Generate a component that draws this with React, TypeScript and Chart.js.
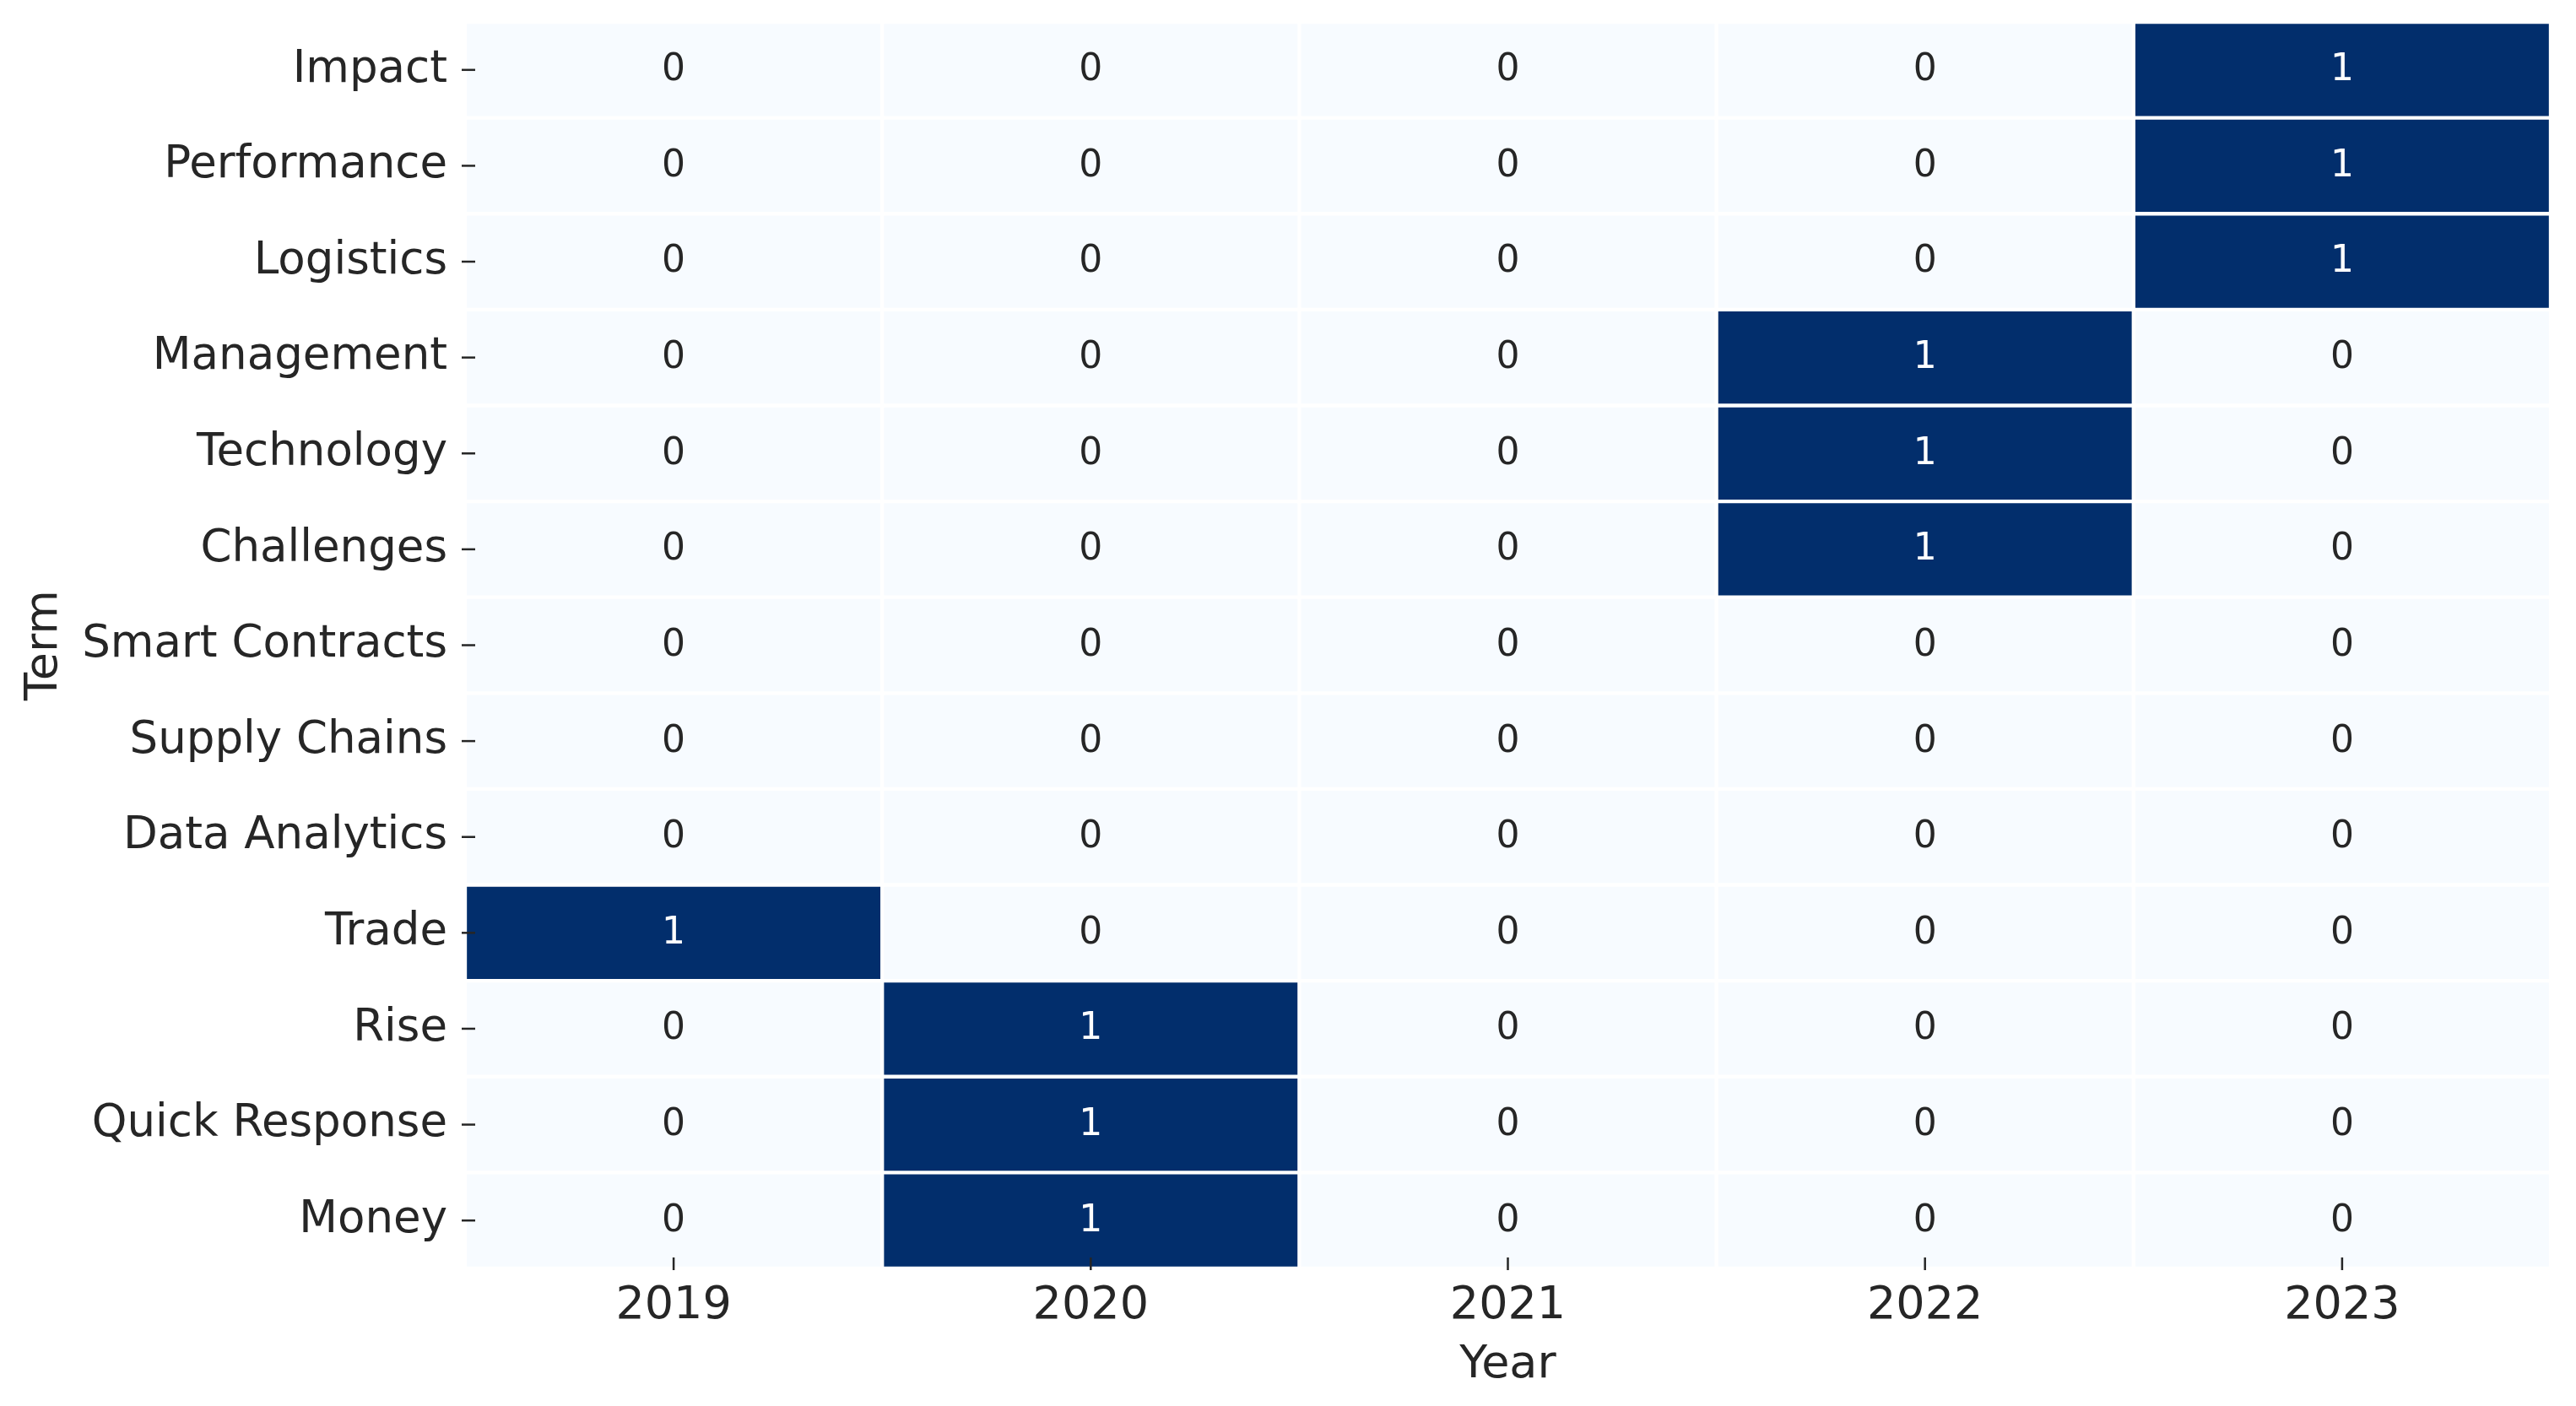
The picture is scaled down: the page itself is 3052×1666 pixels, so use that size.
import { useEffect, useRef } from 'react';
import { Chart, registerables } from 'chart.js';

Chart.register(...registerables);

const years = ['2019', '2020', '2021', '2022', '2023'];
const terms = [
  'Impact',
  'Performance',
  'Logistics',
  'Management',
  'Technology',
  'Challenges',
  'Smart Contracts',
  'Supply Chains',
  'Data Analytics',
  'Trade',
  'Rise',
  'Quick Response',
  'Money',
];
const counts2019 = [0, 0, 0, 0, 0, 0, 0, 0, 0, 1, 0, 0, 0];
const counts2020 = [0, 0, 0, 0, 0, 0, 0, 0, 0, 0, 1, 1, 1];
const counts2021 = [0, 0, 0, 0, 0, 0, 0, 0, 0, 0, 0, 0, 0];
const counts2022 = [0, 0, 0, 1, 1, 1, 0, 0, 0, 0, 0, 0, 0];
const counts2023 = [1, 1, 1, 0, 0, 0, 0, 0, 0, 0, 0, 0, 0];
const countsByYear = [counts2019, counts2020, counts2021, counts2022, counts2023];

const xTitle = 'Year';
const yTitle = 'Term';

const LOW = [247, 251, 255];
const HIGH = [2, 46, 108];
const FONT = '"DejaVu Sans", sans-serif';
const TEXT = '#262626';

function cellColor(v: number, max: number) {
  const t = max > 0 ? v / max : 0;
  const c = LOW.map((l, i) => Math.round(l + (HIGH[i] - l) * t));
  return `rgb(${c[0]},${c[1]},${c[2]})`;
}

const heatPlugin = {
  id: 'heatText',
  afterDatasetsDraw(chart: any) {
    const ctx = chart.ctx as CanvasRenderingContext2D;
    const max = Math.max(...countsByYear.flat());
    ctx.save();
    ctx.font = `44px ${FONT}`;
    ctx.textAlign = 'center';
    ctx.textBaseline = 'middle';
    chart.data.datasets.forEach((_ds: any, di: number) => {
      const meta = chart.getDatasetMeta(di);
      meta.data.forEach((el: any, j: number) => {
        const v = countsByYear[di][j];
        const p = el.getCenterPoint();
        ctx.fillStyle = v / max > 0.5 ? '#ffffff' : TEXT;
        ctx.fillText(String(v), p.x, p.y + 1);
      });
    });
    // tick marks
    const { left, bottom } = chart.chartArea;
    ctx.strokeStyle = TEXT;
    ctx.lineWidth = 2.5;
    const xs = chart.scales.x;
    years.forEach((_y, i) => {
      const px = xs.getPixelForValue(i);
      ctx.beginPath();
      ctx.moveTo(px, bottom - 13);
      ctx.lineTo(px, bottom + 2);
      ctx.stroke();
    });
    const ys = chart.scales.y;
    terms.forEach((_t, j) => {
      const py = ys.getPixelForValue(j);
      ctx.beginPath();
      ctx.moveTo(left - 4, py);
      ctx.lineTo(left + 12, py);
      ctx.stroke();
    });
    ctx.restore();
  },
};

export default function App() {
  const ref = useRef<HTMLCanvasElement | null>(null);

  useEffect(() => {
    document.body.style.margin = '0';
    document.body.style.overflow = 'hidden';
    const canvas = ref.current;
    if (!canvas) return;
    const max = Math.max(...countsByYear.flat());
    const datasets = years.map((year, i) => ({
      label: year,
      data: terms.map(() => [i - 0.5, i + 0.5]),
      backgroundColor: countsByYear[i].map((v) => cellColor(v, max)),
      borderColor: '#ffffff',
      borderWidth: 2.5,
      borderSkipped: false,
      grouped: false,
      barPercentage: 1,
      categoryPercentage: 1,
    }));

    const chart = new Chart(canvas, {
      type: 'bar',
      data: { labels: terms, datasets: datasets as any },
      plugins: [heatPlugin],
      options: {
        indexAxis: 'y',
        responsive: false,
        animation: false,
        events: [],
        layout: { padding: { top: 26, right: 30, bottom: 0, left: 0 } },
        plugins: {
          legend: { display: false },
          tooltip: { enabled: false },
        },
        scales: {
          x: {
            type: 'linear',
            min: -0.5,
            max: 4.5,
            grid: { display: false, drawTicks: false },
            border: { display: false },
            afterBuildTicks: (axis: any) => {
              axis.ticks = years.map((_y, i) => ({ value: i }));
            },
            afterFit: (scale: any) => {
              scale.height = 163;
              scale.paddingLeft = 0;
              scale.paddingRight = 0;
            },
            ticks: {
              autoSkip: false,
              maxRotation: 0,
              padding: 13,
              color: TEXT,
              font: { family: FONT, size: 54 },
              callback: (v: any) => years[Math.round(Number(v))] ?? '',
            },
            title: {
              display: true,
              text: xTitle,
              color: TEXT,
              font: { family: FONT, size: 54 },
              padding: { top: 0, bottom: 16 },
            },
          },
          y: {
            type: 'category',
            offset: true,
            grid: { display: false, drawTicks: false },
            border: { display: false },
            afterFit: (scale: any) => {
              scale.width = 551;
              scale.paddingTop = 0;
              scale.paddingBottom = 0;
            },
            ticks: {
              autoSkip: false,
              padding: 21,
              color: TEXT,
              font: { family: FONT, size: 53 },
            },
            title: {
              display: true,
              text: yTitle,
              color: TEXT,
              font: { family: FONT, size: 54 },
              padding: { top: 21, bottom: 0 },
            },
          },
        },
      } as any,
    });
    return () => chart.destroy();
  }, []);

  return (
    <div style={{ width: 3052, height: 1666, background: '#ffffff' }}>
      <canvas ref={ref} width={3052} height={1666} style={{ display: 'block' }} />
    </div>
  );
}
